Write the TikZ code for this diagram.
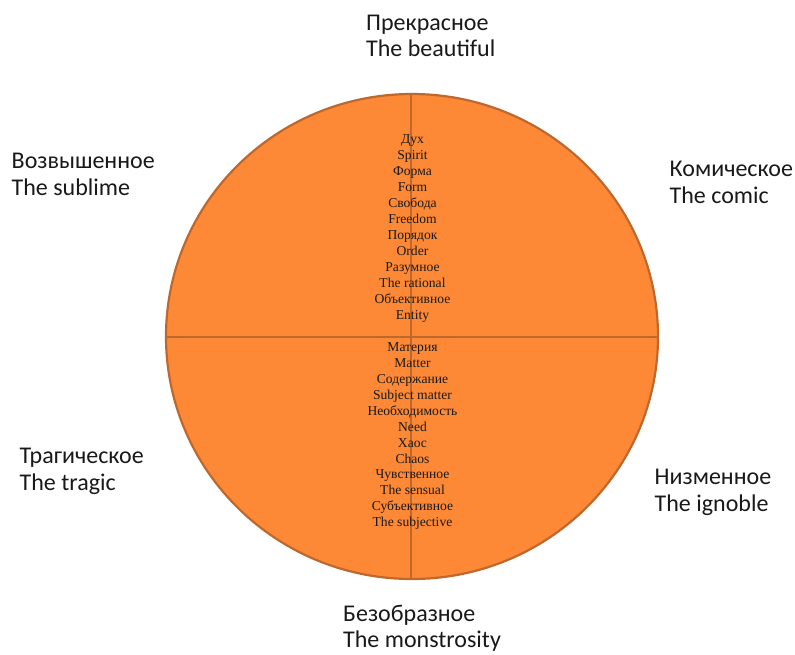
\documentclass[tikz,border=0pt]{standalone}
\usepackage{fontspec}
\usetikzlibrary{shapes.geometric}
\setmainfont{Liberation Serif}
\newfontfamily\lblfont{Carlito}
\definecolor{diskfill}{RGB}{253,137,55}
\definecolor{diskline}{RGB}{190,104,46}
\begin{document}
\begin{tikzpicture}[x=1pt,y=-1pt,
  lbl/.style={anchor=base west,inner sep=0pt,font=\lblfont\fontsize{24}{26}\selectfont,text=black!90},
  inl/.style={anchor=base,inner sep=0pt,font=\fontsize{13.6}{16}\selectfont,text=black!90}]
\useasboundingbox (0,0) rectangle (795,654);
\node[draw=diskline,line width=2.2pt,fill=diskfill,ellipse,minimum width=492pt,minimum height=485pt,inner sep=0pt] (disk) at (412,336.5) {};
\coordinate (ct) at (411,94);
\coordinate (cb) at (411,579);
\coordinate (cl) at (166,337);
\coordinate (cr) at (658,337);
\draw[diskline,line width=2.2pt] (ct) -- (cb);
\draw[diskline,line width=2.2pt] (cl) -- (cr);
\foreach \t [count=\i] in {Дух,Spirit,Форма,Form,Свобода,Freedom,Порядок,Order,Разумное,The rational,Объективное,Entity}
  \node[inl] (u\i) at (412.5,{143.3+16*(\i-1)}) {\t};
\foreach \t [count=\i] in {Материя,Matter,Содержание,Subject matter,Необходимость,Need,Хаос,Chaos,Чувственное,The sensual,Субъективное,The subjective}
  \node[inl] (d\i) at (412.5,{351.7+15.9*(\i-1)}) {\t};
\node[lbl] (b1) at (366,30) {Прекрасное};
\node[lbl] (b2) at (366,56.7) {The beautiful};
\node[lbl] (s1) at (11.5,168.3) {Возвышенное};
\node[lbl] (s2) at (11.5,195) {The sublime};
\node[lbl] (c1) at (669.5,176.7) {Комическое};
\node[lbl] (c2) at (669.5,203.3) {The comic};
\node[lbl] (t1) at (19.5,463.3) {Трагическое};
\node[lbl] (t2) at (19.5,490) {The tragic};
\node[lbl] (i1) at (654.5,484.3) {Низменное};
\node[lbl] (i2) at (654.5,511) {The ignoble};
\node[lbl] (m1) at (343,621) {Безобразное};
\node[lbl] (m2) at (343,647.7) {The monstrosity};
\end{tikzpicture}
\end{document}
